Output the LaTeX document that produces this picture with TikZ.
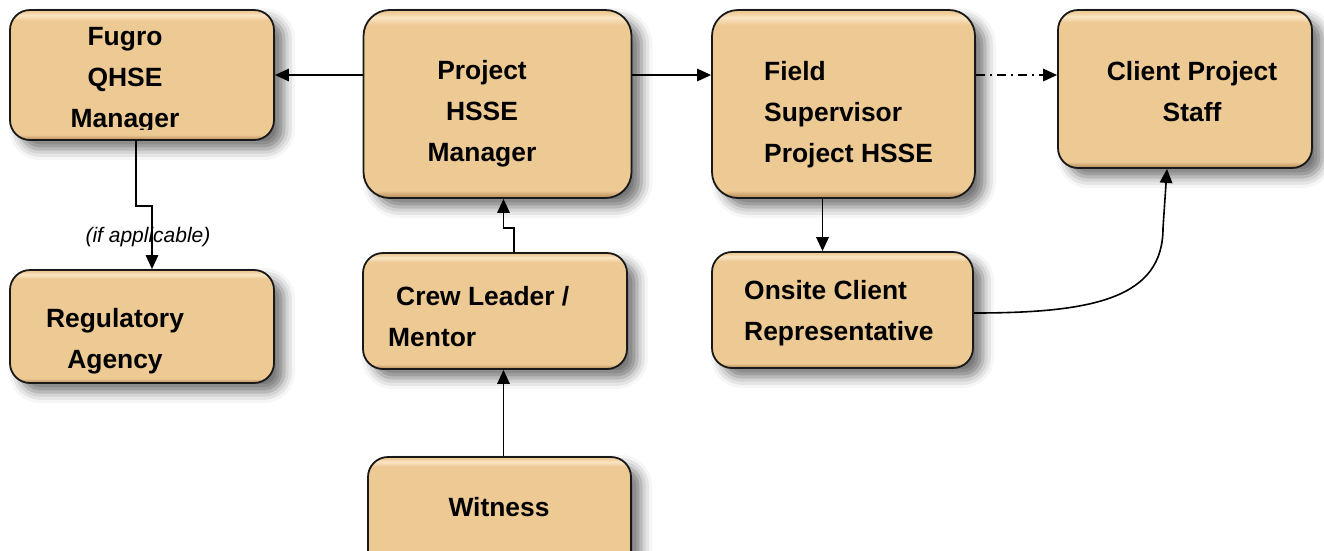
\documentclass[tikz,border=0pt]{standalone}
\usepackage{fontspec}
\setmainfont{Liberation Sans}
\usetikzlibrary{arrows.meta,shadows.blur}
\definecolor{boxc}{RGB}{237,201,148}
\definecolor{boxlight}{RGB}{251,229,195}
\definecolor{boxdark}{RGB}{175,135,85}
\pgfdeclareverticalshading{bevel}{100bp}{color(0bp)=(boxdark); color(25bp)=(boxdark); color(27bp)=(boxc); color(71bp)=(boxc); color(73bp)=(boxlight); color(74.5bp)=(boxc); color(100bp)=(boxc)}
\tikzset{
  box/.style={draw=black!90, line width=1.8pt, rounded corners=20pt, shading=bevel,
    blur shadow={shadow xshift=10pt, shadow yshift=-9pt, shadow blur radius=11pt, shadow opacity=55},
    inner sep=0pt},
  txt/.style={font=\bfseries\fontsize{26.4}{41}\selectfont, inner sep=0pt},
  arr/.style={line width=1.6pt, -{Triangle[length=14pt,width=12.5pt]}},
}
\begin{document}
\begin{tikzpicture}[x=1pt,y=-1pt]
\useasboundingbox (0,0) rectangle (1324,550);
% boxes
\node[box, minimum width=264pt, minimum height=130pt] (fugro) at (142,75) {};
\node[box, rounded corners=26pt, minimum width=268pt, minimum height=188pt] (proj) at (497.5,104) {};
\node[box, rounded corners=26pt, minimum width=263pt, minimum height=188pt] (field) at (843.5,104) {};
\node[box, minimum width=254pt, minimum height=158pt] (client) at (1185,89) {};
\node[box, minimum width=264pt, minimum height=113pt] (reg) at (142,326.5) {};
\node[box, minimum width=264pt, minimum height=116pt] (crew) at (495,311) {};
\node[box, minimum width=261pt, minimum height=116pt] (onsite) at (842.5,310) {};
\node[box, minimum width=263pt, minimum height=120pt] (witness) at (499.5,517) {};
% texts
\begin{scope}
\clip (0,0) rectangle (400,129.5);
\node[txt, align=center] (tfugro) at (125,80) {Fugro\\QHSE\\Manager};
\end{scope}
\node[txt, align=center] (tproj) at (482,114) {Project\\HSSE\\Manager};
\node[txt, align=left, anchor=west] (tfield) at (764,115) {Field\\Supervisor\\Project HSSE};
\node[txt, align=center] (tclient) at (1192,91.5) {Client Project\\Staff};
\node[txt, align=center] (treg) at (115,341.5) {Regulatory\\Agency};
\node[txt, align=left, anchor=west] (tcrew) at (388,316.5) {\hspace*{8pt}Crew Leader /\\Mentor};
\node[txt, align=left, anchor=west] (tonsite) at (744,313.5) {Onsite Client\\Representative};
\node[txt] (twit) at (499,507) {Witness};
% connectors
\draw[arr] (proj.west |- fugro.east) -- (fugro.east);
\draw[arr] (proj.east |- fugro.east) -- (field.west |- fugro.east);
\draw[arr, dash pattern=on 9pt off 5pt on 2pt off 5pt] (field.east |- fugro.east) -- (client.west |- fugro.east);
\draw[arr] ([xshift=-6pt]fugro.south) -- ++(0,65) -| ([xshift=10pt]reg.north);
\node[font=\itshape\fontsize{21}{24}\selectfont, inner sep=0pt] (ifapp) at (148,237) {(if applicable)};
\draw[arr] ([xshift=19pt]crew.north) -- ++(0,-24) -| ([xshift=6pt]proj.south);
\draw[arr] ([xshift=4pt]witness.north) -- ([xshift=4pt]witness.north |- crew.south);
\draw[arr] ([xshift=-21pt]field.south) -- ([xshift=-21pt]field.south |- onsite.north);
\coordinate (bend) at (1163,228);
\draw[arr] ([yshift=-3pt]onsite.east) .. controls +(120,0) and +(0,70) .. (bend) -- ([xshift=-18pt]client.south);
\end{tikzpicture}
\end{document}
